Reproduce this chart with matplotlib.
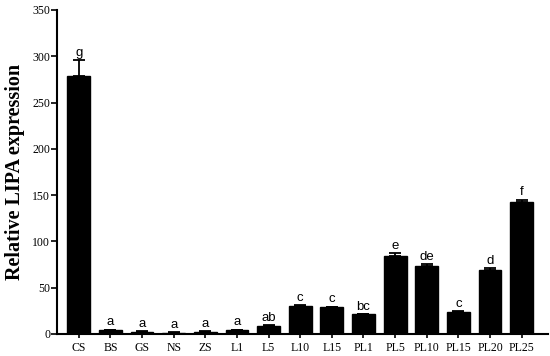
import matplotlib
matplotlib.use("Agg")
import matplotlib.pyplot as plt
import numpy as np

# group labels, mean expression, error (upper SD) and significance letters
groups = ['CS', 'BS', 'GS', 'NS', 'ZS', 'L1', 'L5', 'L10', 'L15',
          'PL1', 'PL5', 'PL10', 'PL15', 'PL20', 'PL25']
means = [279, 4, 2.5, 1.5, 2.5, 4, 9, 30, 29, 21, 84, 73, 24, 69, 142]
errs = [17, 0.5, 0.3, 0.3, 0.3, 0.5, 0.5, 0.8, 0.5, 0.5, 3.5, 2.5, 0.5, 2, 3]
letters = ['g', 'a', 'a', 'a', 'a', 'a', 'ab', 'c', 'c', 'bc',
           'e', 'de', 'c', 'd', 'f']

fig = plt.figure(figsize=(5.5, 3.56), dpi=100)
ax = fig.add_axes([0.1036, 0.062, 0.892, 0.91])

x = np.arange(len(groups))
ax.bar(x, means, width=0.72, color='black', edgecolor='black')
ax.errorbar(x, means, yerr=[np.zeros(len(errs)), errs], fmt='none',
            ecolor='black', elinewidth=1.3, capsize=4.5, capthick=1.3)

for xi, m, e, l in zip(x, means, errs, letters):
    ax.text(xi, m + e + 1.5, l, ha='center', va='bottom',
            fontsize=9.5, family='Liberation Sans')

ax.set_xlim(-0.69, len(groups) - 1 + 0.82)
ax.set_ylim(0, 350)
ax.set_yticks(np.arange(0, 351, 50))
ax.set_xticks(x)
ax.set_xticklabels(groups, family='Liberation Serif', fontsize=8.5)
for t in ax.get_yticklabels():
    t.set_family('Liberation Serif')
    t.set_fontsize(8.5)

ax.spines['top'].set_visible(False)
ax.spines['right'].set_visible(False)
ax.spines['left'].set_linewidth(1.5)
ax.spines['bottom'].set_linewidth(1.5)
ax.tick_params(axis='y', length=4, width=1.2, pad=1)
ax.tick_params(axis='x', length=3, width=1.2, pad=3)

ax.set_ylabel('Relative LIPA expression', family='Liberation Serif',
              fontsize=14.5, fontweight='bold', labelpad=5)

fig.savefig('out.png', dpi=100)
